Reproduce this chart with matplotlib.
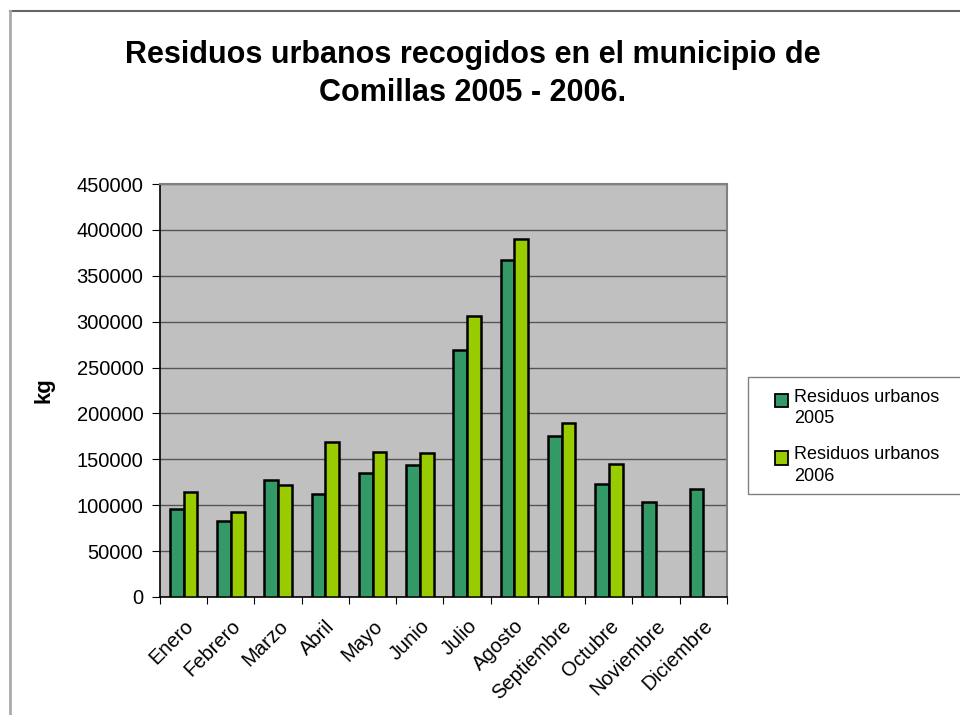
import matplotlib
matplotlib.use("Agg")
import matplotlib.pyplot as plt
import numpy as np
from matplotlib.lines import Line2D
from matplotlib.patches import Rectangle
from matplotlib.container import BarContainer
from matplotlib.legend_handler import HandlerPatch, update_from_first_child

plt.rcParams['font.family'] = ['Liberation Sans', 'DejaVu Sans']

months = ["Enero", "Febrero", "Marzo", "Abril", "Mayo", "Junio", "Julio",
          "Agosto", "Septiembre", "Octubre", "Noviembre", "Diciembre"]
res_2005 = [96000, 83300, 127600, 112400, 135300, 143300, 269500,
            367600, 175600, 123600, 103600, 117500]
res_2006 = [114200, 92700, 121500, 168400, 157800, 156700, 306200,
            390500, 189100, 145100, np.nan, np.nan]
series_names = ["Residuos urbanos\n2005", "Residuos urbanos\n2006"]
yticks = list(range(0, 450001, 50000))
title = "Residuos urbanos recogidos en el municipio de\nComillas 2005 - 2006."

fig = plt.figure(figsize=(9.6, 7.15), dpi=100)
ax = fig.add_axes([160/960, 1-597/715, (727-160)/960, (597-184)/715])
ax.set_facecolor('#C0C0C0')

x = np.arange(len(months))
w = 0.29
ax.bar(x - w/2, res_2005, width=w, color='#339966', edgecolor='black', linewidth=1.8,
       label=series_names[0], zorder=3)
ax.bar(x + w/2, res_2006, width=w, color='#99CC00', edgecolor='black', linewidth=1.8,
       label=series_names[1], zorder=3)

ax.set_xlim(-0.5, len(months) - 0.5)
ax.set_ylim(0, 450000)
ax.set_yticks(yticks)
ax.set_yticklabels([str(v) for v in yticks], fontsize=14.5)
ax.yaxis.grid(True, color='#555555', linewidth=1.0, zorder=1)
ax.set_axisbelow(True)

ax.set_xticks(x)
ax.set_xticklabels(months, rotation=45, ha='right', rotation_mode='anchor', fontsize=14.5)
ax.tick_params(axis='x', which='major', length=0, pad=14)
ax.set_xticks(np.arange(-0.5, len(months)), minor=True)
ax.tick_params(axis='x', which='minor', length=5, color='black', width=0.8)
ax.tick_params(axis='y', length=6, width=0.8, pad=6)

for s in ['top', 'right']:
    ax.spines[s].set_color('#808080')
    ax.spines[s].set_linewidth(1.5)
ax.spines['left'].set_color('black')
ax.spines['bottom'].set_color('black')
ax.spines['left'].set_linewidth(1.2)
ax.spines['bottom'].set_linewidth(1.2)

ax.set_ylabel("kg", fontsize=16, fontweight='bold', labelpad=16)

fig.text(473/960, 1-74/715, title, ha='center', va='center', fontsize=22,
         fontweight='bold', linespacing=1.38)

# legend frame (extends past the right edge as in the reference)
fig.add_artist(Rectangle((748/960, 1-494/715), 230/960, (494-377)/715,
                         transform=fig.transFigure, facecolor='white',
                         edgecolor='#808080', linewidth=1.0, zorder=2))


def top_square(legend, orig_handle, xdescent, ydescent, width, height, fontsize):
    s = 0.74 * fontsize
    return Rectangle((-xdescent, -ydescent + height - s + 0.05 * fontsize), s, s)


leg = fig.legend(loc='upper left', bbox_to_anchor=(775/960, 1-389/715),
                 fontsize=13, frameon=False,
                 handlelength=0.74, handleheight=2.0, handletextpad=0.3,
                 borderpad=0, labelspacing=1.05, borderaxespad=0,
                 handler_map={BarContainer: HandlerPatch(patch_func=top_square,
                                                         update_func=update_from_first_child)})
leg.set_zorder(3)
for t in leg.get_texts():
    t.set_linespacing(1.33)
for h in leg.legend_handles:
    h.set_linewidth(1.3)

fig.add_artist(Line2D([10/960, 1], [1-11/715, 1-11/715], color='#666666', linewidth=1.5))
fig.add_artist(Line2D([10/960, 10/960], [0, 1-11/715], color='#AAAAAA', linewidth=2))

fig.savefig("out.png", dpi=100)
